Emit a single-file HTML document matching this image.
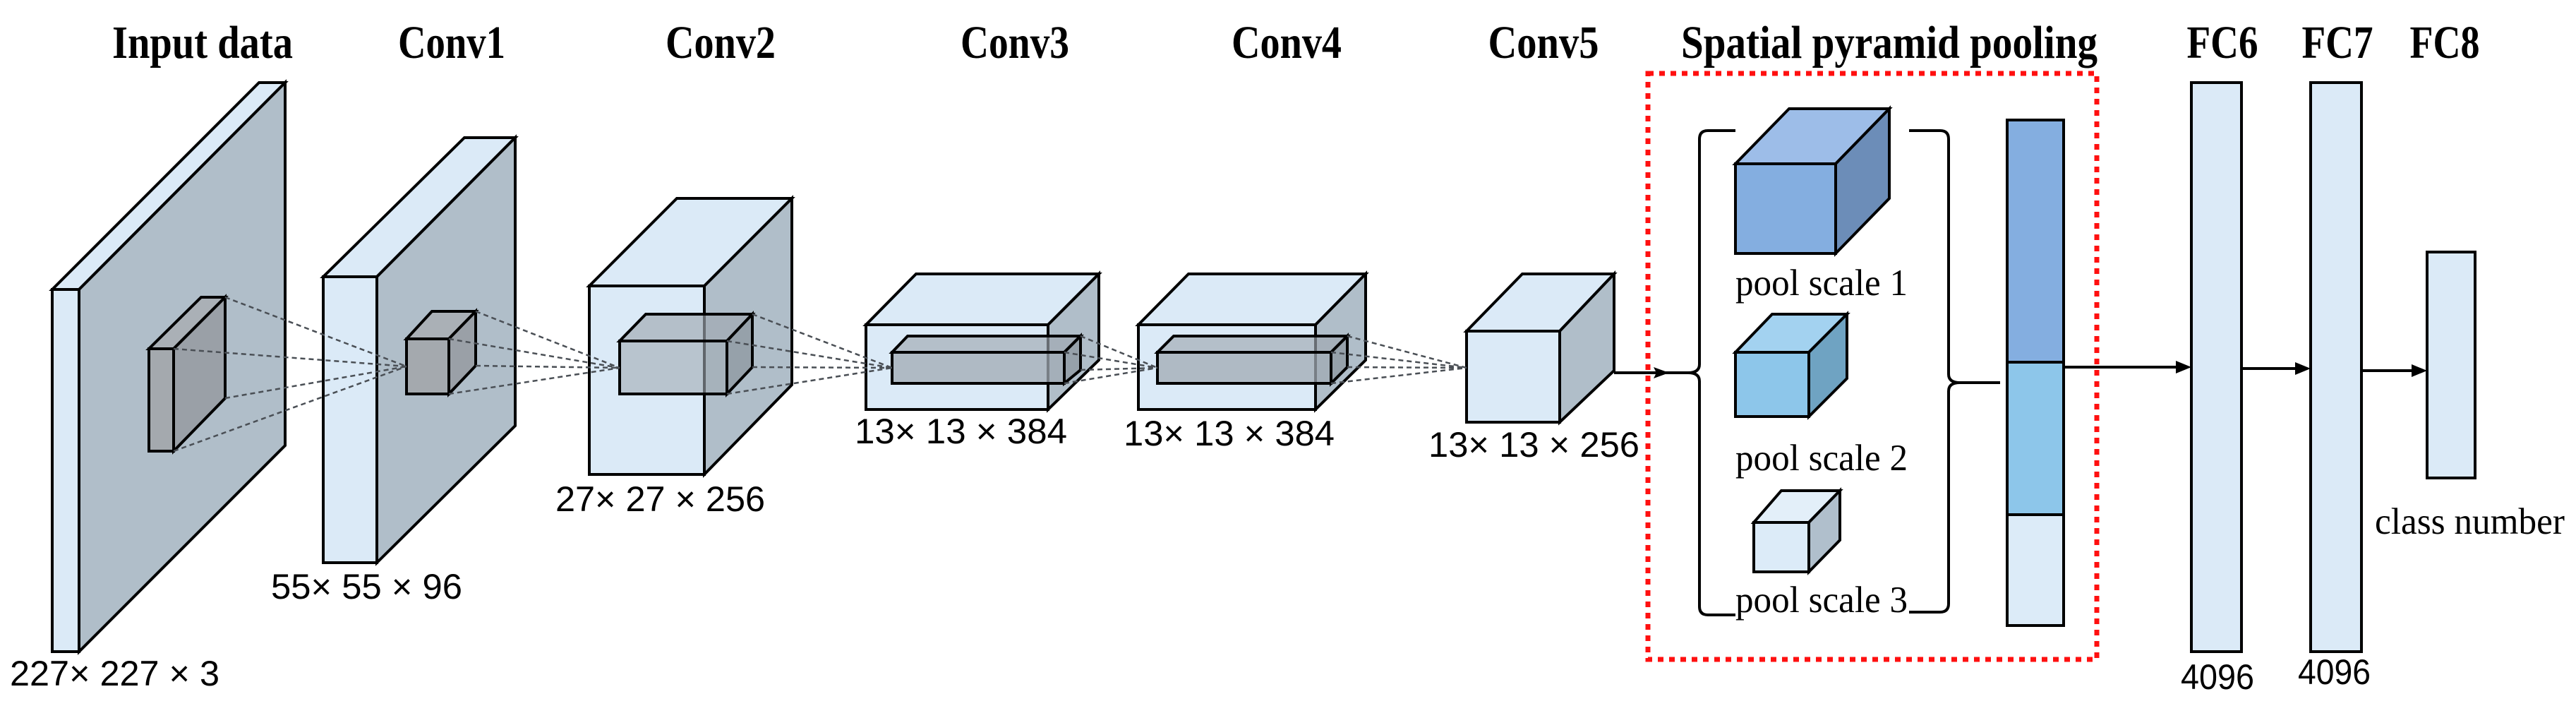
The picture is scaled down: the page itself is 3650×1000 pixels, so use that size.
<!DOCTYPE html>
<html><head><meta charset="utf-8"><style>html,body{margin:0;padding:0;background:#fff}svg{display:block}</style></head><body>
<svg width="3650" height="1000" viewBox="0 0 3650 1000" xmlns="http://www.w3.org/2000/svg">
<g font-family="Liberation Serif, serif" font-weight="bold" font-size="66" text-anchor="middle" fill="#000">
<text x="287" y="82" textLength="256" lengthAdjust="spacingAndGlyphs">Input data</text>
<text x="640" y="82" textLength="152" lengthAdjust="spacingAndGlyphs">Conv1</text>
<text x="1021" y="82" textLength="156" lengthAdjust="spacingAndGlyphs">Conv2</text>
<text x="1438" y="82" textLength="154" lengthAdjust="spacingAndGlyphs">Conv3</text>
<text x="1823" y="82" textLength="156" lengthAdjust="spacingAndGlyphs">Conv4</text>
<text x="2187" y="82" textLength="157" lengthAdjust="spacingAndGlyphs">Conv5</text>
<text x="2677" y="82" textLength="590" lengthAdjust="spacingAndGlyphs">Spatial pyramid pooling</text>
<text x="3149" y="82" textLength="101" lengthAdjust="spacingAndGlyphs">FC6</text>
<text x="3312" y="82" textLength="101" lengthAdjust="spacingAndGlyphs">FC7</text>
<text x="3464" y="82" textLength="99" lengthAdjust="spacingAndGlyphs">FC8</text>
</g>
<g stroke="#000" stroke-width="4" stroke-linejoin="miter">
<polygon points="74,410 112,410 404,117 367,117" fill="#dbeaf7"/>
<polygon points="112,410 404,117 404,631 112,923" fill="#b0bec9"/>
<rect x="74" y="410" width="38" height="513" fill="#dbeaf7"/>
<polygon points="211,494 246,494 319,421 285,421" fill="#aab0b6"/>
<polygon points="246,494 319,421 319,564 246,639" fill="#9aa0a7"/>
<rect x="211" y="494" width="35" height="145" fill="#a4a9ae"/>
<polygon points="458,392 534,392 730,195 658,195" fill="#dbeaf7"/>
<polygon points="534,392 730,195 730,603 534,797" fill="#b0bec9"/>
<rect x="458" y="392" width="76" height="405" fill="#dbeaf7"/>
<polygon points="576,480 636,480 674,441 612,441" fill="#aab0b6"/>
<polygon points="636,480 674,441 674,518 636,558" fill="#9aa0a7"/>
<rect x="576" y="480" width="60" height="78" fill="#a4a9ae"/>
<polygon points="835,405 998,405 1122,281 959,281" fill="#dbeaf7"/>
<polygon points="998,405 1122,281 1122,545 998,672" fill="#b0bec9"/>
<rect x="835" y="405" width="163" height="267" fill="#dbeaf7"/>
<polygon points="878,483 1030,483 1066,445 915,445" fill="#a0a8b0" fill-opacity="0.65"/>
<polygon points="1030,483 1066,445 1066,520 1030,558" fill="#8e979f" fill-opacity="0.75"/>
<rect x="878" y="483" width="152" height="75" fill="#a0aab3" fill-opacity="0.6"/>
<polygon points="1227,460 1485,460 1557,388 1298,388" fill="#dbeaf7"/>
<polygon points="1485,460 1557,388 1557,510 1485,580" fill="#b0bec9"/>
<rect x="1227" y="460" width="258" height="120" fill="#dbeaf7"/>
<polygon points="1264,499 1508,499 1531,476 1286,476" fill="#a0a8b0" fill-opacity="0.65"/>
<polygon points="1508,499 1531,476 1531,524 1508,543" fill="#8e979f" fill-opacity="0.75"/>
<rect x="1264" y="499" width="244" height="44" fill="#a0aab3" fill-opacity="0.75"/>
<polygon points="1613,460 1864,460 1935,388 1684,388" fill="#dbeaf7"/>
<polygon points="1864,460 1935,388 1935,510 1864,580" fill="#b0bec9"/>
<rect x="1613" y="460" width="251" height="120" fill="#dbeaf7"/>
<polygon points="1640,499 1886,499 1909,476 1663,476" fill="#a0a8b0" fill-opacity="0.65"/>
<polygon points="1886,499 1909,476 1909,520 1886,543" fill="#8e979f" fill-opacity="0.75"/>
<rect x="1640" y="499" width="246" height="44" fill="#a0aab3" fill-opacity="0.75"/>
<polygon points="2078,469 2210,469 2287,388 2157,388" fill="#dbeaf7"/>
<polygon points="2210,469 2287,388 2287,525 2210,598" fill="#b0bec9"/>
<rect x="2078" y="469" width="132" height="129" fill="#dbeaf7"/>
<polygon points="2459,232 2601,232 2677,154 2535,154" fill="#9dbde8"/>
<polygon points="2601,232 2677,154 2677,281 2601,359" fill="#6c8db8"/>
<rect x="2459" y="232" width="142" height="127" fill="#84aee0"/>
<polygon points="2459,499 2563,499 2617,445 2511,445" fill="#a3d2f0"/>
<polygon points="2563,499 2617,445 2617,536 2563,590" fill="#6fa3c2"/>
<rect x="2459" y="499" width="104" height="91" fill="#8dc6ea"/>
<polygon points="2485,740 2563,740 2607,695 2524,695" fill="#e3eff9"/>
<polygon points="2563,740 2607,695 2607,765 2563,810" fill="#b0bfcc"/>
<rect x="2485" y="740" width="78" height="70" fill="#dcebf8"/>
<rect x="2844" y="170" width="80" height="343" fill="#84aee0"/>
<rect x="2844" y="513" width="80" height="216" fill="#8dc6ea"/>
<rect x="2844" y="729" width="80" height="157" fill="#dcebf8"/>
<rect x="3105" y="117" width="71" height="806" fill="#dbeaf7"/>
<rect x="3274" y="117" width="72" height="806" fill="#dbeaf7"/>
<rect x="3439" y="357" width="68" height="320" fill="#dbeaf7"/>
</g>
<g stroke="#4a4f55" stroke-width="2.5" stroke-dasharray="7 5" fill="none">
<path d="M319,421L576,519M246,494L576,519M319,564L576,519M246,639L576,519"/>
<path d="M674,441L878,521M636,480L878,521M674,518L878,521M636,558L878,521"/>
<path d="M1066,445L1264,521M1030,483L1264,521M1066,520L1264,521M1030,558L1264,521"/>
<path d="M1531,476L1640,521M1508,499L1640,521M1531,524L1640,521M1508,543L1640,521"/>
<path d="M1909,476L2078,521M1886,499L2078,521M1909,520L2078,521M1886,543L2078,521"/>
</g>
<rect x="2335" y="104" width="636" height="830" fill="none" stroke="#ff1010" stroke-width="7" stroke-dasharray="8 8"/>
<g stroke="#000" stroke-width="4" fill="none">
<path d="M2459,185 L2420,185 Q2408,185 2408,197 L2408,516 Q2408,528 2392,528 L2358,528 L2392,528 Q2408,528 2408,540 L2408,859 Q2408,871 2420,871 L2459,871"/>
<path d="M2705,185 L2749,185 Q2761,185 2761,197 L2761,530 Q2761,542 2777,542 L2834,542 L2777,542 Q2761,542 2761,554 L2761,855 Q2761,867 2749,867 L2705,867"/>
</g>
<g stroke="#000" stroke-width="4" fill="none">
<path d="M2287,528 L2355,528"/>
<path d="M2924,520 L3095,520"/>
<path d="M3176,522 L3264,522"/>
<path d="M3346,525 L3429,525"/>
</g>
<g fill="#000">
<polygon points="2365,528 2343,520 2347,528 2343,536"/>
<polygon points="3105,520 3083,511 3083,529"/>
<polygon points="3274,522 3252,513 3252,531"/>
<polygon points="3439,525 3417,516 3417,534"/>
</g>
<g font-family="Liberation Sans, sans-serif" font-size="50" fill="#000">
<text x="14" y="971" textLength="297" lengthAdjust="spacingAndGlyphs">227× 227 × 3</text>
<text x="384" y="848" textLength="271" lengthAdjust="spacingAndGlyphs">55× 55 × 96</text>
<text x="787" y="724" textLength="297" lengthAdjust="spacingAndGlyphs">27× 27 × 256</text>
<text x="1211" y="628" textLength="301" lengthAdjust="spacingAndGlyphs">13× 13 × 384</text>
<text x="1592" y="631" textLength="299" lengthAdjust="spacingAndGlyphs">13× 13 × 384</text>
<text x="2024" y="647" textLength="299" lengthAdjust="spacingAndGlyphs">13× 13 × 256</text>
<text x="3090" y="976" textLength="104" lengthAdjust="spacingAndGlyphs">4096</text>
<text x="3256" y="969" textLength="103" lengthAdjust="spacingAndGlyphs">4096</text>
</g>
<g font-family="Liberation Serif, serif" font-size="53" fill="#000">
<text x="2459" y="418" textLength="244" lengthAdjust="spacingAndGlyphs">pool scale 1</text>
<text x="2459" y="666" textLength="244" lengthAdjust="spacingAndGlyphs">pool scale 2</text>
<text x="2459" y="867" textLength="244" lengthAdjust="spacingAndGlyphs">pool scale 3</text>
<text x="3365" y="756" textLength="269" lengthAdjust="spacingAndGlyphs">class number</text>
</g>
</svg>
</body></html>
